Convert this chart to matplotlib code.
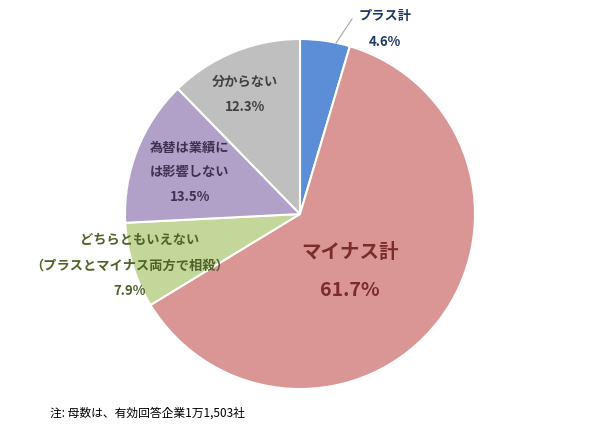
import matplotlib
matplotlib.use("Agg")
import matplotlib.pyplot as plt

categories = ["プラス計", "マイナス計", "どちらともいえない\n（プラスとマイナス両方で相殺）", "為替は業績に\nは影響しない", "分からない"]
values = [4.6, 61.7, 7.9, 13.5, 12.3]
colors = ["#5B8ED6", "#DA9694", "#C4D79B", "#B1A0C7", "#BFBFBF"]
text_colors = ["#1F3864", "#7B2C2A", "#4F6228", "#3F3151", "#404040"]

plt.rcParams["font.family"] = "Noto Sans CJK JP"
W, H = 600, 431
fig = plt.figure(figsize=(6, 4.31), dpi=100)
cx, cy, r = 300, 215, 175
ax = fig.add_axes([(cx - r) / W, 1 - (cy + r) / H, 2 * r / W, 2 * r / H])
ax.pie(values, colors=colors, startangle=90, counterclock=False,
       wedgeprops=dict(edgecolor="white", linewidth=1.5))
ax.set_aspect("equal")
ax.set_xlim(-1, 1)
ax.set_ylim(-1, 1)

def t(x, y, s, c, size=9.5, ha="center"):
    fig.text(x / W, 1 - y / H, s, color=c, fontsize=size, fontweight="bold", ha=ha, va="center")

t(385, 16, categories[0], text_colors[0])
t(385, 42, f"{values[0]}%", text_colors[0])
fig.add_artist(plt.Line2D([352 / W, 336 / W], [1 - 20 / H, 1 - 44 / H], color="#A6A6A6", lw=0.8))
t(350, 253, "マイナス計", text_colors[1], 14)
t(350, 290, f"{values[1]}%", text_colors[1], 14)
t(140, 240, "どちらともいえない", text_colors[2])
t(130, 266, "（プラスとマイナス両方で相殺）", text_colors[2])
t(130, 291, f"{values[2]}%", text_colors[2])
t(190, 148, "為替は業績に", text_colors[3])
t(190, 172, "は影響しない", text_colors[3])
t(190, 197, f"{values[3]}%", text_colors[3])
t(245, 82, categories[4], text_colors[4])
t(245, 107, f"{values[4]}%", text_colors[4])
fig.text(50 / W, 1 - 413 / H, "注: 母数は、有効回答企業1万1,503社", fontsize=8.5, ha="left", va="center", color="#000000")
fig.savefig("out.png", dpi=100)
